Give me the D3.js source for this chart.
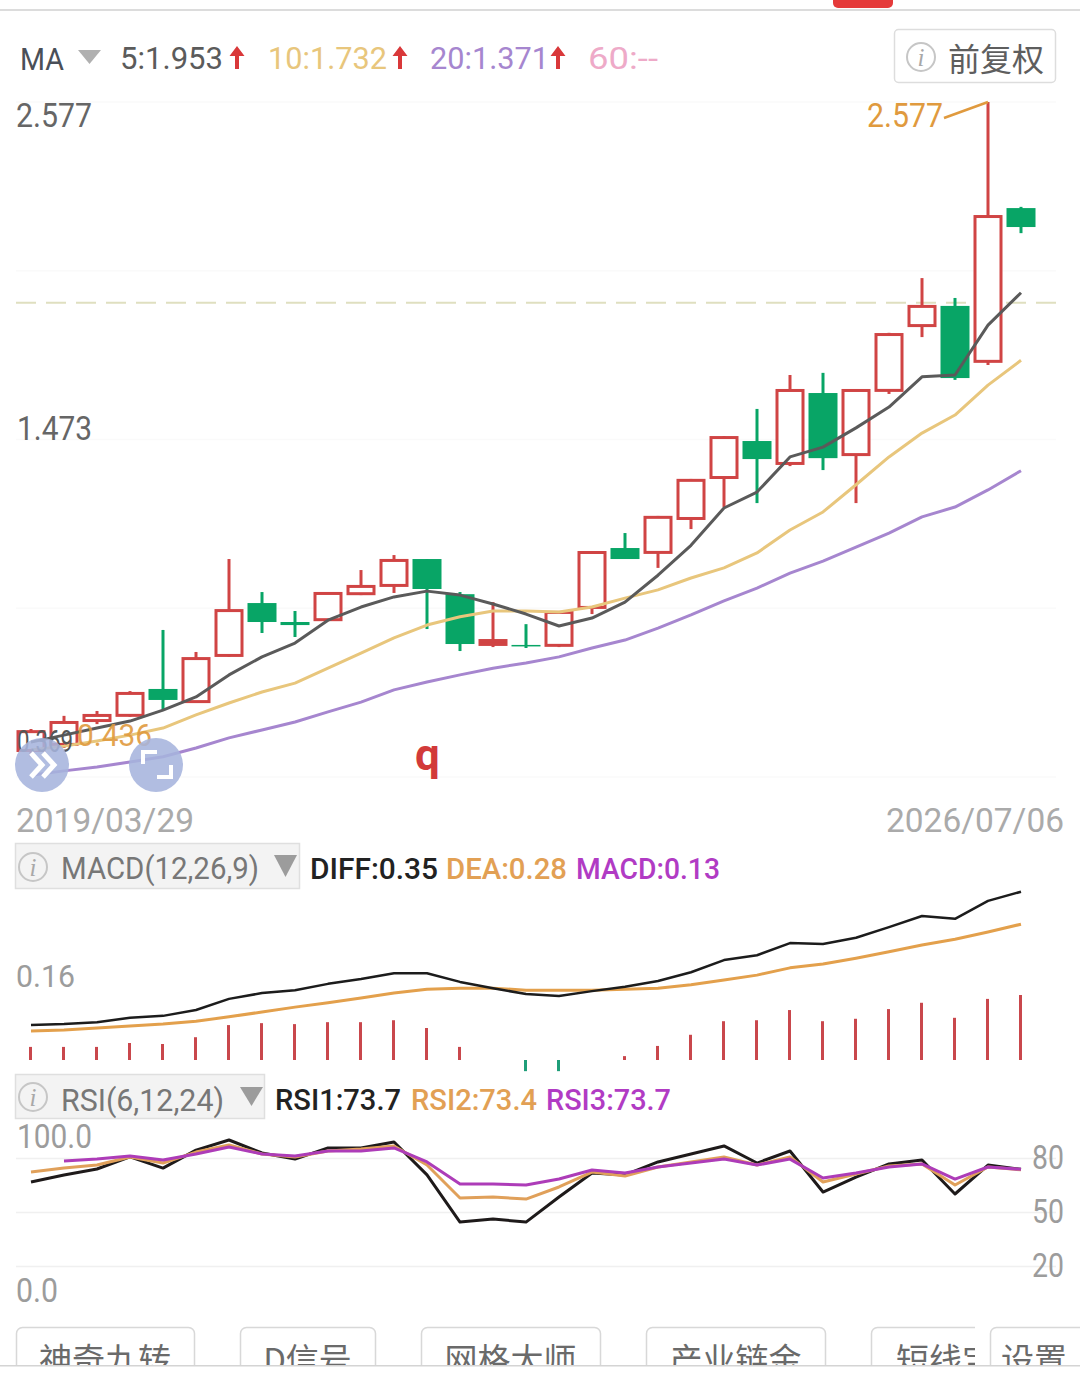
<!DOCTYPE html>
<html>
<head>
<meta charset="utf-8">
<title>K线</title>
<script src="https://cdn.jsdelivr.net/npm/d3@7/dist/d3.min.js"></script>
<style>
html,body{margin:0;padding:0;background:#fff;}
svg{display:block;}
text{font-family:Roboto,"Noto Sans CJK SC",sans-serif;}
.cjk{font-family:"Noto Sans CJK SC",sans-serif;}
</style>
</head>
<body>
<svg id="chart" width="1080" height="1386"></svg>
<script>
// Daily candles
const opens  = [0.454,0.474,0.552,0.569,0.657,0.614,0.765,0.938,0.876,0.882,0.967,0.994,1.082,0.967,0.801,0.801,0.798,0.922,1.118,1.102,1.213,1.347,1.468,1.393,1.625,1.422,1.632,1.844,1.910,1.727,2.230];
const closes = [0.519,0.549,0.572,0.644,0.621,0.758,0.915,0.876,0.866,0.971,0.994,1.079,0.984,0.804,0.817,0.798,0.909,1.105,1.082,1.220,1.341,1.481,1.409,1.635,1.412,1.635,1.818,1.910,1.674,2.204,2.168];
const highs  = [0.526,0.569,0.585,0.650,0.850,0.778,1.082,0.974,0.912,0.974,1.046,1.095,1.082,0.974,0.941,0.869,0.912,1.105,1.167,1.223,1.344,1.484,1.573,1.684,1.691,1.638,1.822,2.001,1.936,2.577,2.234];
const lows   = [0.436,0.464,0.542,0.566,0.591,0.611,0.762,0.840,0.827,0.879,0.964,0.971,0.853,0.781,0.794,0.791,0.794,0.902,1.082,1.053,1.180,1.252,1.265,1.386,1.373,1.265,1.622,1.808,1.668,1.717,2.148];

// Moving averages
const ma5  = [0.483,0.506,0.529,0.552,0.588,0.631,0.703,0.762,0.807,0.882,0.925,0.958,0.977,0.964,0.935,0.902,0.863,0.889,0.941,1.029,1.127,1.249,1.301,1.416,1.448,1.511,1.579,1.678,1.684,1.847,1.953];
const ma10 = [0.457,0.470,0.487,0.506,0.529,0.572,0.611,0.647,0.676,0.725,0.774,0.824,0.866,0.893,0.912,0.912,0.909,0.925,0.954,0.981,1.020,1.053,1.102,1.177,1.236,1.325,1.416,1.494,1.553,1.651,1.732];
const ma20 = [0.375,0.389,0.402,0.418,0.435,0.464,0.497,0.523,0.549,0.582,0.614,0.654,0.680,0.703,0.725,0.742,0.762,0.791,0.817,0.856,0.899,0.945,0.987,1.036,1.075,1.121,1.167,1.220,1.252,1.308,1.371];

const priceMax = 2.577, priceMin = 0.369, lastPriceLine = 1.920;

// MACD panel
const diff = [0.072,0.074,0.078,0.087,0.091,0.103,0.126,0.138,0.144,0.157,0.167,0.179,0.179,0.161,0.148,0.136,0.132,0.142,0.151,0.163,0.181,0.206,0.216,0.241,0.239,0.252,0.274,0.297,0.291,0.328,0.347];
const dea  = [0.060,0.062,0.066,0.070,0.074,0.080,0.089,0.099,0.109,0.118,0.128,0.138,0.146,0.148,0.148,0.144,0.144,0.144,0.146,0.148,0.155,0.165,0.175,0.190,0.198,0.210,0.223,0.237,0.249,0.264,0.280];
const macd = [0.027,0.027,0.027,0.035,0.033,0.047,0.072,0.076,0.074,0.078,0.078,0.082,0.066,0.027,0,-0.023,-0.023,0,0.008,0.029,0.052,0.080,0.082,0.103,0.080,0.085,0.105,0.118,0.087,0.126,0.134];

// RSI panel
const rsi1 = [66.7,70.6,73.9,80.6,74.4,84.4,90.0,82.8,79.4,85.6,85.6,88.9,70.6,44.4,46.1,44.4,58.3,71.7,70.6,77.8,82.2,86.7,77.2,83.9,61.1,69.4,76.7,78.9,60.0,76.1,73.7];
const rsi2 = [72.2,74.4,76.1,80.6,77.2,83.3,87.2,82.2,80.6,83.9,85.0,86.7,76.1,57.8,58.3,57.2,63.9,72.2,70.0,75.0,77.8,80.6,76.1,80.6,66.7,71.1,75.6,76.7,65.0,75.0,73.4];
const rsi3 = [null,78.3,79.4,81.1,78.9,82.2,86.1,82.2,81.1,83.9,83.9,85.6,77.8,65.6,65.6,65.0,68.3,73.3,71.7,75.0,77.2,79.4,76.1,79.4,68.9,71.7,75.0,76.7,68.3,75.0,73.7];
const rsiTicks = [80,50,20];

const dateLabels = ["2019/03/29","2026/07/06"];
const toolButtons = ["神奇九转","D信号","网格大师","产业链金","短线宝","设置"];

const RED = "#d04444", GREEN = "#08a566";
const C_MA5 = "#5a5a5a", C_MA10 = "#e8c67c", C_MA20 = "#a686cf";
const C_ORANGE = "#e2a054", C_MAGENTA = "#b13bc4", C_AXIS = "#9c9c9c";

const svg = d3.select("#chart");
const index = d3.range(opens.length);
const x = d3.scalePoint().domain(index).range([31, 1021]);
const y = d3.scaleLinear().domain([priceMin, priceMax]).range([777, 102]);
const yMacd = d3.scaleLinear().domain([0, 0.35]).range([1060, 890.25]);
const yRsi = d3.scaleLinear().domain([0, 100]).range([1302, 1122]);

// Text with a fixed run width: the face used here is wider than the app's digits.
function label(g, str, px, py, size, fill, width, weight) {
  const t = g.append("text").attr("x", px).attr("y", py)
    .attr("font-size", size).attr("fill", fill).text(str);
  if (width) t.attr("textLength", width).attr("lengthAdjust", "spacingAndGlyphs");
  if (weight) t.attr("font-weight", weight);
  return t;
}
function seriesLine(g, values, scale, color, width) {
  g.append("path")
    .datum(values)
    .attr("fill", "none")
    .attr("stroke", color)
    .attr("stroke-width", width)
    .attr("stroke-linejoin", "round")
    .attr("d", d3.line()
      .defined(d => d !== null)
      .x((d, i) => x(i))
      .y(d => scale(d)));
}
function infoIcon(g, cx, cy, r) {
  g.append("circle").attr("cx", cx).attr("cy", cy).attr("r", r)
    .attr("fill", "none").attr("stroke", "#c6c6c6").attr("stroke-width", 2);
  g.append("text").attr("x", cx).attr("y", cy + 9).attr("text-anchor", "middle")
    .attr("font-size", 25).attr("font-style", "italic").attr("fill", "#a8a8a8")
    .style("font-family", "'Liberation Serif',serif").text("i");
}
function triangle(g, x0, x1, y0, y1, fill) {
  g.append("path").attr("fill", fill)
    .attr("d", `M${x0},${y0}H${x1}L${(x0 + x1) / 2},${y1}Z`);
}
function upArrow(g, cx) {
  g.append("path").attr("fill", "#d9383a")
    .attr("d", `M${cx},46L${cx + 7.5},56H${cx + 2}V69H${cx - 2}V56H${cx - 7.5}Z`);
}

// Status strip across the top
const chrome = svg.append("g");
chrome.append("rect").attr("x", 0).attr("y", 9).attr("width", 1080).attr("height", 2).attr("fill", "#dcdcdc");
chrome.append("path").attr("fill", "#e53a3a")
  .attr("d", "M833,0H893V3a5,5 0 0 1 -5,5H838a5,5 0 0 1 -5,-5Z");

// Moving average header
const head = svg.append("g");
label(head, "MA", 20, 70, 31, "#4a4f58", 44);
triangle(head, 78, 101, 50, 64, "#b0b0b0");
label(head, "5:1.953", 120, 69, 32, "#5b5b5b", 103);
upArrow(head, 237);
label(head, "10:1.732", 268, 69, 32, C_MA10, 119);
upArrow(head, 400);
label(head, "20:1.371", 430, 69, 32, C_MA20, 119);
upArrow(head, 558);
label(head, "60:--", 588, 69, 32, "#eeaac8", 70);

head.append("rect").attr("x", 894.5).attr("y", 29.5).attr("width", 161).attr("height", 53).attr("rx", 4)
  .attr("fill", "#fff").attr("stroke", "#dddddd").attr("stroke-width", 1.5);
infoIcon(head, 921, 57, 14);
head.append("text").attr("class", "cjk").attr("x", 948).attr("y", 71)
  .attr("font-size", 32).attr("fill", "#5e5e5e").text("前复权");

// Price panel
const price = svg.append("g");
price.append("g").selectAll("line")
  .data(d3.range(5).map(k => priceMin + (priceMax - priceMin) * k / 4))
  .join("line")
  .attr("x1", 16).attr("x2", 1056)
  .attr("y1", d => y(d)).attr("y2", d => y(d))
  .attr("stroke", "#fafafa").attr("stroke-width", 1.5);
price.append("line")
  .attr("x1", 16).attr("x2", 1056)
  .attr("y1", y(lastPriceLine)).attr("y2", y(lastPriceLine))
  .attr("stroke", "#dfdfc0").attr("stroke-width", 2)
  .attr("stroke-dasharray", "20 10");

const candles = price.append("g").selectAll("g").data(index).join("g");
const isUp = i => closes[i] >= opens[i];
const bodyPx = i => Math.abs(y(opens[i]) - y(closes[i]));
const candleColor = i => isUp(i) ? RED : GREEN;
candles.append("line")
  .attr("x1", i => x(i)).attr("x2", i => x(i))
  .attr("y1", i => y(highs[i])).attr("y2", i => y(lows[i]))
  .attr("stroke", candleColor).attr("stroke-width", 3);
candles.append("rect")
  .attr("x", i => x(i) - (isUp(i) ? 13 : 14.5))
  .attr("width", i => isUp(i) ? 26 : 29)
  .attr("y", i => {
    const top = y(Math.max(opens[i], closes[i]));
    return isUp(i) ? top + 0.5 : top;
  })
  .attr("height", i => isUp(i) ? Math.max(bodyPx(i) - 1, 0.5) : Math.max(bodyPx(i), 1.5))
  // very short rising bodies read as a solid bar
  .attr("fill", i => !isUp(i) ? GREEN : (bodyPx(i) < 6 ? RED : "#fff"))
  .attr("stroke", i => isUp(i) ? RED : "none")
  .attr("stroke-width", 3);

seriesLine(price, ma20, y, C_MA20, 3);
seriesLine(price, ma10, y, C_MA10, 3);
seriesLine(price, ma5, y, C_MA5, 3);

// Peak marker
const peakIndex = d3.maxIndex(highs);
price.append("line")
  .attr("x1", x(peakIndex)).attr("y1", y(highs[peakIndex]))
  .attr("x2", 944).attr("y2", 118)
  .attr("stroke", "#e09a3e").attr("stroke-width", 2.5);
label(price, "2.577", 867, 127, 33, "#e09a3e", 76);

// Price labels
label(price, "2.577", 16, 127, 33, "#666", 76);
label(price, "1.473", 17, 440, 33, "#666", 75);
label(price, "0.369", 17, 752, 31, "#555", 56);
label(price, "0.436", 77, 746, 31, "#e09a3e", 75).attr("opacity", 0.9);

// Floating round buttons
const floats = svg.append("g");
floats.append("circle").attr("cx", 42).attr("cy", 765).attr("r", 27).attr("fill", "#a6b4dd").attr("opacity", 0.88);
floats.append("circle").attr("cx", 156).attr("cy", 765).attr("r", 27).attr("fill", "#a6b4dd").attr("opacity", 0.88);
floats.append("path").attr("fill", "none").attr("stroke", "#fff").attr("stroke-width", 5)
  .attr("d", "M31,753L42,765L31,777M43,753L54,765L43,777");
floats.append("path").attr("fill", "none").attr("stroke", "#fff").attr("stroke-width", 4)
  .attr("d", "M143,764V752H157M171,765V777H157");
label(floats, "q", 415, 770, 44, "#d23a3a", null, 700);

// Date range
label(svg, dateLabels[0], 16, 832, 33, "#aaaaaa", 178);
label(svg, dateLabels[1], 886, 832, 33, "#aaaaaa", 178);

// MACD panel
const macdPanel = svg.append("g");
macdPanel.append("rect").attr("x", 15.5).attr("y", 843.5).attr("width", 284).attr("height", 45)
  .attr("fill", "#f3f3f3").attr("stroke", "#dfdfdf").attr("stroke-width", 1.5);
infoIcon(macdPanel, 33, 867, 14);
label(macdPanel, "MACD(12,26,9)", 61, 879, 31, "#777", 198);
triangle(macdPanel, 274, 297, 855, 877, "#9c9c9c");
label(macdPanel, "DIFF:0.35", 310, 879, 30, "#222", 128, 500);
label(macdPanel, "DEA:0.28", 446, 879, 30, C_ORANGE, 121, 500);
label(macdPanel, "MACD:0.13", 576, 879, 30, C_MAGENTA, 144, 500);
label(macdPanel, "0.16", 16, 987, 32, C_AXIS, 59);

macdPanel.append("g").selectAll("line").data(index).join("line")
  .attr("x1", i => x(i) - 0.5).attr("x2", i => x(i) - 0.5)
  .attr("y1", yMacd(0)).attr("y2", i => yMacd(macd[i]))
  .attr("stroke", i => macd[i] >= 0 ? "#c9474c" : "#1f9e79")
  .attr("stroke-width", 3);
seriesLine(macdPanel, dea, yMacd, "#e3a04c", 3);
seriesLine(macdPanel, diff, yMacd, "#1c1c1c", 2.5);

// RSI panel
const rsiPanel = svg.append("g");
rsiPanel.append("rect").attr("x", 15.5).attr("y", 1074.5).attr("width", 249).attr("height", 44)
  .attr("fill", "#f3f3f3").attr("stroke", "#dfdfdf").attr("stroke-width", 1.5);
infoIcon(rsiPanel, 33, 1097, 14);
label(rsiPanel, "RSI(6,12,24)", 61, 1111, 31, "#777", 163);
triangle(rsiPanel, 240, 263, 1087, 1106, "#9c9c9c");
label(rsiPanel, "RSI1:73.7", 275, 1110, 30, "#222", 126, 500);
label(rsiPanel, "RSI2:73.4", 411, 1110, 30, C_ORANGE, 126, 500);
label(rsiPanel, "RSI3:73.7", 546, 1110, 30, C_MAGENTA, 125, 500);
label(rsiPanel, "100.0", 17, 1148, 33, C_AXIS, 75);
label(rsiPanel, "0.0", 16, 1302, 33, C_AXIS, 42);

const rsiAxis = rsiPanel.append("g")
  .attr("transform", "translate(16,0)")
  .call(d3.axisRight(yRsi).tickValues(rsiTicks).tickSize(1040).tickPadding(-24));
rsiAxis.select(".domain").remove();
rsiAxis.selectAll("line").attr("stroke", "#f0f0f0").attr("stroke-width", 1.5);
rsiAxis.selectAll("text")
  .attr("fill", C_AXIS).attr("font-size", 33)
  .attr("textLength", 32).attr("lengthAdjust", "spacingAndGlyphs")
  .style("font-family", "Roboto,sans-serif");

seriesLine(rsiPanel, rsi1, yRsi, "#1e1a1a", 3);
seriesLine(rsiPanel, rsi2, yRsi, "#e0a05a", 3);
seriesLine(rsiPanel, rsi3, yRsi, "#ad3cb8", 3);

// Indicator tool buttons, cut off by the bar below them
const defs = svg.append("defs");
defs.append("clipPath").attr("id", "toolClip").append("rect")
  .attr("x", 0).attr("y", 1320).attr("width", 1080).attr("height", 45);
defs.append("clipPath").attr("id", "scrollClip").append("rect")
  .attr("x", 0).attr("y", 1320).attr("width", 975).attr("height", 45);

const buttonBoxes = [[16,194],[240,375],[421,600],[646,825],[871,1000],[990,1090]];
const tools = svg.append("g").attr("clip-path", "url(#toolClip)");
toolButtons.forEach((name, k) => {
  const [x0, x1] = buttonBoxes[k];
  const g = tools.append("g");
  if (k === 4) g.attr("clip-path", "url(#scrollClip)");
  g.append("rect").attr("x", x0 + 0.5).attr("y", 1327.5).attr("width", x1 - x0).attr("height", 60).attr("rx", 6)
    .attr("fill", "#fff").attr("stroke", "#d8d8d8").attr("stroke-width", 1.5);
  g.append("text").attr("class", "cjk")
    .attr("x", k === 4 ? 896 : (k === 5 ? 1001 : (x0 + x1) / 2))
    .attr("y", 1372)
    .attr("text-anchor", k >= 4 ? "start" : "middle")
    .attr("font-size", 33).attr("fill", "#6a6a6a").text(name);
});
svg.append("rect").attr("x", 0).attr("y", 1365).attr("width", 1080).attr("height", 1.5).attr("fill", "#d4d4d4");
</script>
</body>
</html>
